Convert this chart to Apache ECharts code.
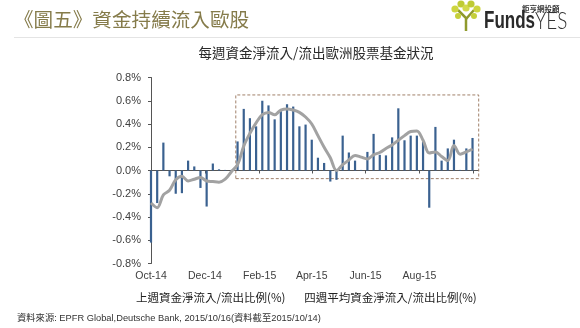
<!DOCTYPE html>
<html><head><meta charset="utf-8">
<script src="https://cdn.jsdelivr.net/npm/echarts@6/dist/echarts.min.js"></script>
<style>html,body{margin:0;padding:0;background:#fff}#c{width:580px;height:328px}</style>
</head><body><div id="c"></div>
<script>
// ---- data ----
const weeks = ['2014-10-15','2014-10-22','2014-10-29','2014-11-05','2014-11-12','2014-11-19','2014-11-26',
  '2014-12-03','2014-12-10','2014-12-17','2014-12-24','2014-12-31',
  '2015-01-07','2015-01-14','2015-01-21','2015-01-28','2015-02-04','2015-02-11','2015-02-18','2015-02-25',
  '2015-03-04','2015-03-11','2015-03-18','2015-03-25','2015-04-01','2015-04-08','2015-04-15','2015-04-22','2015-04-29',
  '2015-05-06','2015-05-13','2015-05-20','2015-05-27','2015-06-03','2015-06-10','2015-06-17','2015-06-24',
  '2015-07-01','2015-07-08','2015-07-15','2015-07-22','2015-07-29','2015-08-05','2015-08-12','2015-08-19','2015-08-26',
  '2015-09-02','2015-09-09','2015-09-16','2015-09-23','2015-09-30','2015-10-07','2015-10-14'];
const weeklyFlow = [-0.62,-0.28,0.24,-0.05,-0.20,-0.195,0.085,0.035,-0.15,-0.31,0.06,0.01,0.005,0.005,0.25,
  0.53,0.45,0.38,0.60,0.56,0.44,0.51,0.57,0.55,0.38,0.395,0.265,0.11,0.065,-0.095,-0.08,0.30,0.155,0.085,0.005,
  0.16,0.315,0.135,0.13,0.285,0.535,0.26,0.30,0.30,0.25,-0.32,0.375,0.085,0.19,0.265,0.005,0.19,0.28];
const fourWeekAvg = [-0.28,-0.32,-0.21,-0.17,-0.08,-0.05,-0.09,-0.075,-0.06,-0.09,-0.095,-0.10,-0.075,-0.01,0.05,
  0.21,0.32,0.41,0.48,0.50,0.48,0.52,0.53,0.52,0.50,0.46,0.40,0.30,0.20,0.11,
  0.00,0.05,0.09,0.13,0.115,0.10,0.135,0.155,0.19,0.22,0.26,0.30,0.335,0.34,0.26,
  0.15,0.16,0.12,0.085,0.215,0.14,0.16,0.185];
const tickDates = ['2014-10-15','2014-12-15','2015-02-15','2015-04-15','2015-06-15','2015-08-15','2015-10-15'];
const tickLabels = ['Oct-14','Dec-14','Feb-15','Apr-15','Jun-15','Aug-15',''];
const seriesNames = ['上週資金淨流入/流出比例(%)','四週平均資金淨流入/流出比例(%)'];
const axisStart = '2014-10-15', axisEnd = '2015-10-21';
const highlightFrom = ['2015-01-19', 0.65];
const highlightTo = ['2015-10-21', -0.07];
const yMin = -0.8, yMax = 0.8, yStep = 0.2;

// ---- helpers ----
function toTime(s){ const p = s.split('-').map(Number); return Date.UTC(p[0], p[1]-1, p[2]); }
const tickTimes = tickDates.map(toTime);
const FONT = '"Liberation Sans", Arial, "Noto Sans CJK TC", sans-serif';
const CJK = '"Noto Sans CJK TC", "Liberation Sans", sans-serif';

const chart = echarts.init(document.getElementById('c'), null, {renderer:'canvas'});
chart.setOption({
  animation: false,
  backgroundColor: '#fff',
  grid: { left: 151, top: 77.5, width: 327.7, height: 186, outerBoundsMode: 'none' },
  legend: {
    data: seriesNames, left: 126, top: 287, itemWidth: 0, itemHeight: 0, itemGap: 14, icon: 'rect',
    selectedMode: false,
    textStyle: { fontSize: 11.5, color: '#222', fontFamily: CJK }
  },
  xAxis: [{
    type: 'value', min: toTime(axisStart), max: toTime(axisEnd), position: 'bottom', scale: true,
    axisLine: { show: false, onZero: false }, axisTick: { show: false }, splitLine: { show: false },
    axisLabel: {
      customValues: tickTimes, margin: 7, fontSize: 10.5, color: '#404040', fontFamily: FONT,
      formatter: function (v) { const i = tickTimes.indexOf(v); return i >= 0 ? tickLabels[i] : ''; }
    }
  }, {
    type: 'value', min: toTime(axisStart), max: toTime(axisEnd), position: 'bottom', scale: true,
    axisLine: { show: true, onZero: true, lineStyle: { color: '#555', width: 1 } },
    axisTick: { show: true, customValues: tickTimes, length: 3, lineStyle: { color: '#555' } },
    axisLabel: { show: false }, splitLine: { show: false }
  }],
  yAxis: {
    type: 'value', min: yMin, max: yMax, interval: yStep,
    axisLine: { show: true, onZero: false, lineStyle: { color: '#555' } },
    axisTick: { show: true, length: 3, lineStyle: { color: '#555' } },
    splitLine: { show: false },
    axisLabel: { margin: 10, fontSize: 11, color: '#404040', fontFamily: FONT,
      formatter: function (v) { return v.toFixed(1) + '%'; } }
  },
  series: [{
    name: seriesNames[0], type: 'bar', xAxisIndex: 0, barWidth: 2.2,
    itemStyle: { color: '#3a6190' },
    data: weeks.map(function (d, i) { return [toTime(d), weeklyFlow[i]]; }),
    markArea: {
      silent: true,
      itemStyle: { color: 'rgba(0,0,0,0)', borderColor: '#a0806a', borderWidth: 1, borderType: [3, 2] },
      data: [[{ coord: [toTime(highlightFrom[0]), highlightFrom[1]] },
              { coord: [toTime(highlightTo[0]), highlightTo[1]] }]]
    }
  }, {
    name: seriesNames[1], type: 'line', xAxisIndex: 0, smooth: 0.35, symbol: 'none',
    lineStyle: { color: '#a2a2a2', width: 3 }, itemStyle: { color: '#a2a2a2' },
    data: weeks.map(function (d, i) { return [toTime(d), fourWeekAvg[i]]; })
  }],
  graphic: [
    { type: 'text', x: 14, y: 20, style: { text: '《圖五》資金持續流入歐股', font: '19.6px ' + CJK, fill: '#857b4a', textVerticalAlign: 'middle' } },
    { type: 'line', shape: { x1: 14, y1: 37.5, x2: 580, y2: 37.5 }, style: { stroke: '#e4e4e4', lineWidth: 1 } },
    { type: 'text', x: 316, y: 53, style: { text: '每週資金淨流入/流出歐洲股票基金狀況', font: '13.5px ' + CJK, fill: '#2a2a2a', textAlign: 'center', textVerticalAlign: 'middle' } },
    { type: 'text', x: 17, y: 318, style: { text: '資料來源: EPFR Global,Deutsche Bank, 2015/10/16(資料截至2015/10/14)', font: '9.3px ' + FONT, fill: '#333', textVerticalAlign: 'middle' } },
    // logo
    { type: 'text', x: 522, y: 9, style: { text: '鉅亨網投顧', font: 'bold 7.5px ' + CJK, fill: '#333', textVerticalAlign: 'middle' } },
    { type: 'text', x: 484, y: 22, scaleX: 0.74, style: { text: 'Funds', font: 'bold 23px "Liberation Sans", Arial, sans-serif', fill: '#2a2a2a', textVerticalAlign: 'middle' } },
    { type: 'text', x: 535, y: 22, scaleX: 0.82, style: { text: 'YES', font: '300 23px Lato, "Liberation Sans", sans-serif', fill: '#333', textVerticalAlign: 'middle' } },
    { type: 'polyline', shape: { points: [[466, 31], [466, 18], [458, 10]] }, style: { stroke: '#8f9a2c', lineWidth: 2.5, fill: null } },
    { type: 'line', shape: { x1: 466, y1: 19, x2: 474, y2: 10 }, style: { stroke: '#8f9a2c', lineWidth: 2.5 } },
    { type: 'circle', shape: { cx: 455, cy: 9, r: 3.6 }, style: { fill: '#cdd53f' } },
    { type: 'circle', shape: { cx: 461, cy: 4, r: 3.6 }, style: { fill: '#bfcb35' } },
    { type: 'circle', shape: { cx: 466, cy: 8, r: 3.6 }, style: { fill: '#d3da4c' } },
    { type: 'circle', shape: { cx: 471, cy: 4, r: 3.6 }, style: { fill: '#bfcb35' } },
    { type: 'circle', shape: { cx: 477, cy: 9, r: 3.6 }, style: { fill: '#cdd53f' } },
    { type: 'circle', shape: { cx: 458, cy: 16, r: 3 }, style: { fill: '#c5cf3a' } },
    { type: 'circle', shape: { cx: 474, cy: 16, r: 3 }, style: { fill: '#c5cf3a' } }
  ]
});
</script></body></html>
